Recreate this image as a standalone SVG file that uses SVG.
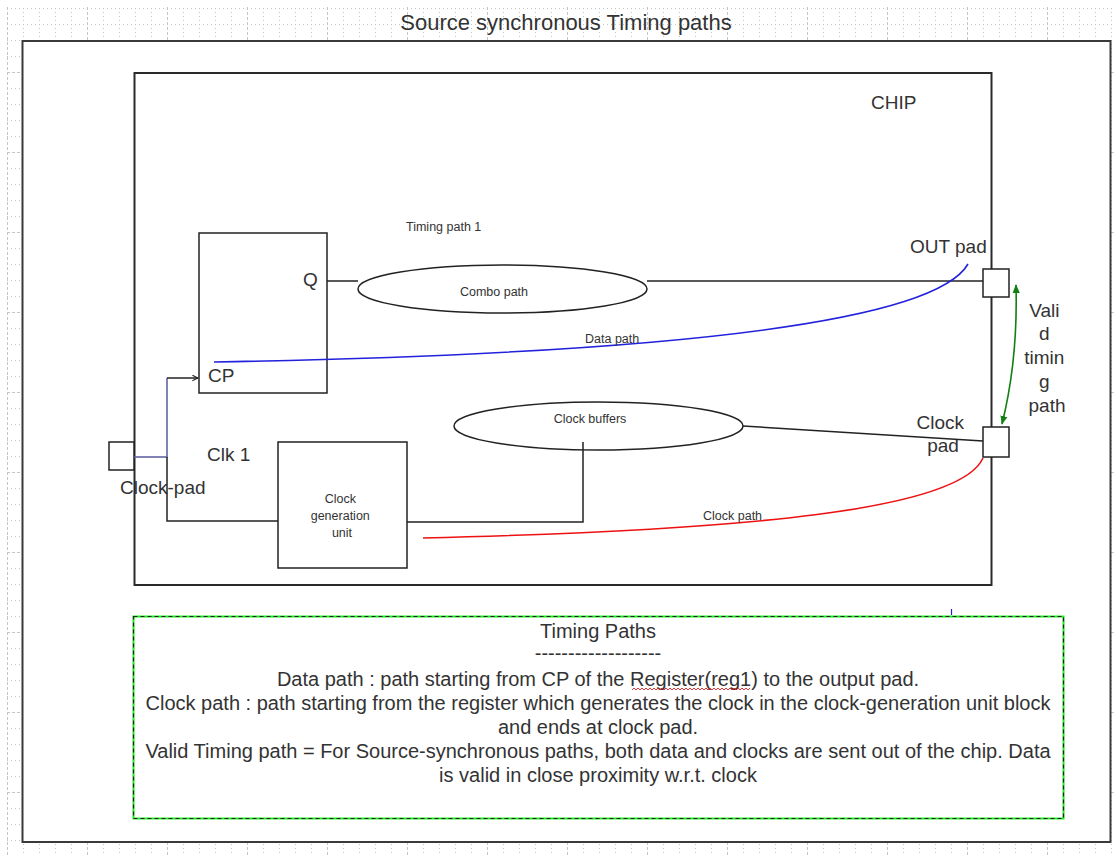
<svg xmlns="http://www.w3.org/2000/svg" width="1114" height="856" viewBox="0 0 1114 856">
  <style>
    .lbl { font-family: "Liberation Sans", Arial, sans-serif; fill: #333; }
    .big { font-size: 19px; }
    .sm { font-size: 12.5px; }
    .note { font-size: 20px; text-anchor: middle; }
    .box { fill: #fff; stroke: #222; stroke-width: 1.5; }
    .wire { fill: none; stroke: #222; stroke-width: 1.5; }
  </style>
  <defs>
    <!-- drawing-page grid: dotted minor lines every 16px, heavier lines every 80px -->
    <pattern id="grid" x="7" y="-8" width="80" height="80" patternUnits="userSpaceOnUse">
      <g stroke="#c4c4c4" stroke-width="1" fill="none">
        <path d="M16.5 0V80M32.5 0V80M48.5 0V80M64.5 0V80" stroke-dasharray="1 3"/>
        <path d="M0 16.5H80M0 32.5H80M0 48.5H80M0 64.5H80" stroke-dasharray="1 3"/>
        <path d="M0.5 0V80M0 0.5H80" stroke-dasharray="3 2"/>
      </g>
    </pattern>
    <marker id="open" viewBox="0 0 10 10" refX="9" refY="5" markerWidth="7" markerHeight="7" orient="auto" markerUnits="userSpaceOnUse">
      <path d="M1 1L9 5L1 9" fill="none" stroke="#222" stroke-width="1.5"/>
    </marker>
    <marker id="gArrow" viewBox="0 0 10 10" refX="9" refY="5" markerWidth="9" markerHeight="9" orient="auto-start-reverse" markerUnits="userSpaceOnUse">
      <path d="M0 1L10 5L0 9Z" fill="#108010"/>
    </marker>
  </defs>

  <!-- page background and grid -->
  <rect x="0" y="0" width="1114" height="856" fill="#fff"/>
  <rect x="7" y="7" width="1107" height="849" fill="url(#grid)"/>

  <text class="lbl" x="566" y="30" font-size="22" text-anchor="middle">Source synchronous Timing paths</text>

  <!-- outer frame -->
  <rect id="frame" x="22.5" y="41" width="1088" height="801" fill="#fff" stroke="#3a3a3a" stroke-width="2"/>

  <!-- chip outline -->
  <g id="chip">
    <rect x="134.5" y="73" width="857" height="512" fill="none" stroke="#2a2a2a" stroke-width="2"/>
    <text class="lbl big" x="871" y="109">CHIP</text>
  </g>

  <g id="register">
    <rect class="box" x="199" y="233" width="128" height="160"/>
    <text class="lbl big" x="303" y="286">Q</text>
    <text class="lbl big" x="208" y="382">CP</text>
  </g>

  <g id="clock-pad">
    <rect class="box" x="109" y="442" width="25" height="28"/>
    <text class="lbl big" x="120" y="494">Clock-pad</text>
  </g>

  <text class="lbl big" x="207" y="461">Clk 1</text>

  <g id="clock-gen">
    <rect class="box" x="278" y="442" width="129" height="126"/>
    <text class="lbl sm" text-anchor="middle">
      <tspan x="342" y="503">Clock</tspan>
      <tspan x="342" y="520">generation</tspan>
      <tspan x="342" y="537">unit</tspan>
    </text>
  </g>

  <g id="combo-path">
    <ellipse cx="502.5" cy="289" rx="144.5" ry="24" fill="#fff" stroke="#222" stroke-width="1.5"/>
    <text class="lbl sm" x="494" y="296" text-anchor="middle">Combo path</text>
  </g>
  <text class="lbl sm" x="406" y="231">Timing path 1</text>

  <g id="clock-buffers">
    <ellipse cx="598.5" cy="426" rx="144.5" ry="24" fill="#fff" stroke="#222" stroke-width="1.5"/>
    <text class="lbl sm" x="590" y="423" text-anchor="middle">Clock buffers</text>
  </g>

  <g id="out-pad">
    <rect class="box" x="983" y="269" width="26" height="28"/>
    <text class="lbl big" x="910" y="253">OUT pad</text>
  </g>

  <g id="clk-out-pad">
    <rect class="box" x="983" y="427" width="26" height="30"/>
    <text class="lbl big" text-anchor="middle">
      <tspan x="943" y="429">Clock</tspan>
      <tspan x="943" y="452">pad</tspan>
    </text>
  </g>

  <!-- connectors -->
  <g id="connectors">
    <!-- clock input fan-out -->
    <path d="M134 457H167V378" fill="none" stroke="#5a5aa0" stroke-width="1.5"/>
    <path class="wire" d="M167 378H198" marker-end="url(#open)"/>
    <path class="wire" d="M167 457V521H278"/>
    <!-- register Q to combo path to OUT pad -->
    <path class="wire" d="M327 281H358"/>
    <path class="wire" d="M647 281H983"/>
    <!-- clock generation unit to clock buffers -->
    <path class="wire" d="M407 522H583V442"/>
    <!-- clock buffers to clock pad -->
    <path class="wire" d="M743 426L983 441"/>
    <!-- data path (blue) -->
    <path d="M214 362C600 355 930 330 968 264" fill="none" stroke="#2222dd" stroke-width="1.6"/>
    <!-- clock path (red) -->
    <path d="M423 538C750 530 960 510 983 458" fill="none" stroke="#ee1111" stroke-width="1.6"/>
    <!-- valid timing window -->
    <path d="M1016 285Q1018 360 1002 424" fill="none" stroke="#108010" stroke-width="1.6" marker-start="url(#gArrow)" marker-end="url(#gArrow)"/>
    <line x1="951.5" y1="609" x2="951.5" y2="615" stroke="#2222dd" stroke-width="1.2"/>
  </g>

  <text class="lbl sm" x="585" y="343">Data path</text>
  <text class="lbl sm" x="703" y="520">Clock path</text>

  <text class="lbl big" text-anchor="middle">
    <tspan x="1047" y="317">Vali</tspan>
    <tspan x="1047" y="340">d</tspan>
    <tspan x="1047" y="364">timin</tspan>
    <tspan x="1047" y="388">g</tspan>
    <tspan x="1047" y="412">path</tspan>
  </text>

  <!-- legend box -->
  <g id="legend">
    <rect x="133.5" y="616.5" width="930" height="202" fill="#fff" stroke="#22ee22" stroke-width="2"/>
    <rect x="133.5" y="616.5" width="930" height="202" fill="none" stroke="#222" stroke-width="1.2" stroke-dasharray="4 3"/>
    <text class="lbl note" x="598" y="638">Timing Paths</text>
    <text class="lbl note" x="598" y="660">-------------------</text>
    <text class="lbl note" x="598" y="686">Data path : path starting from CP of the Register(reg1) to the output pad.</text>
    <text class="lbl note" x="598" y="710">Clock path : path starting from the register which generates the clock in the clock-generation unit block</text>
    <text class="lbl note" x="598" y="734">and ends at clock pad.</text>
    <text class="lbl note" x="598" y="758">Valid Timing path = For Source-synchronous paths, both data and clocks are sent out of the chip. Data</text>
    <text class="lbl note" x="598" y="782">is valid in close proximity w.r.t. clock</text>
    <!-- spell-check underline -->
    <path d="M632 690l2 -2l2 2l2 -2l2 2l2 -2l2 2l2 -2l2 2l2 -2l2 2l2 -2l2 2l2 -2l2 2l2 -2l2 2l2 -2l2 2l2 -2l2 2l2 -2l2 2l2 -2l2 2l2 -2l2 2l2 -2l2 2l2 -2l2 2l2 -2l2 2l2 -2l2 2l2 -2l2 2l2 -2l2 2l2 -2l2 2l2 -2l2 2l2 -2l2 2l2 -2l2 2l2 -2l2 2l2 -2l2 2l2 -2l2 2l2 -2l2 2l2 -2l2 2l2 -2l2 2l2 -2" fill="none" stroke="#e02020" stroke-width="0.9"/>
  </g>
</svg>
